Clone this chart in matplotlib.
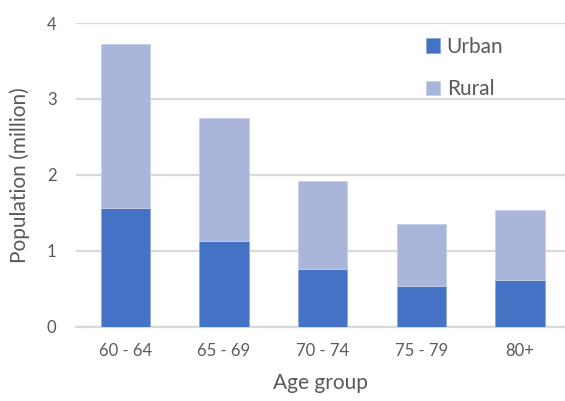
import matplotlib
matplotlib.use("Agg")
import matplotlib.pyplot as plt
import numpy as np

age_groups = ["60 - 64", "65 - 69", "70 - 74", "75 - 79", "80+"]
urban = [1.57, 1.13, 0.76, 0.54, 0.61]
rural = [2.16, 1.62, 1.16, 0.81, 0.93]

plt.rcParams["font.family"] = ["Lato", "DejaVu Sans"]
text_color = "#595959"
grid_color = "#d9d9d9"

fig = plt.figure(figsize=(5.65, 4.01), dpi=100)
ax = fig.add_axes([0.1345, 0.185, 0.866, 0.7576])

x = np.arange(len(age_groups))
ax.bar(x, urban, width=0.5, color="#4472C4", edgecolor="#8fa5d8", linewidth=0.6,
       label="Urban", zorder=3)
ax.bar(x, rural, width=0.5, bottom=urban, color="#A9B5D9", edgecolor="#c7d0ea",
       linewidth=0.6, label="Rural", zorder=3)

ax.set_ylim(0, 4)
ax.set_xlim(-0.5, 4.46)
ax.set_yticks([0, 1, 2, 3, 4])
ax.set_xticks(x)
ax.set_xticklabels(age_groups)
ax.yaxis.grid(True, color=grid_color, linewidth=1.6, zorder=0)
for side in ["top", "right", "left"]:
    ax.spines[side].set_visible(False)
ax.spines["bottom"].set_color(grid_color)
ax.spines["bottom"].set_linewidth(1.6)
ax.tick_params(axis="both", length=0, labelsize=12, colors=text_color)
ax.tick_params(axis="x", pad=12)
ax.tick_params(axis="y", pad=14)

ax.set_xlabel("Age group", fontsize=15, color=text_color, labelpad=10)
ax.set_ylabel("Population (million)", fontsize=15, color=text_color, labelpad=12)

leg = ax.legend(loc="upper left", bbox_to_anchor=(0.716, 0.955), frameon=False,
                fontsize=15, handlelength=0.68, handleheight=0.68,
                handletextpad=0.3, labelspacing=1.08, borderpad=0,
                borderaxespad=0)
for t in leg.get_texts():
    t.set_color(text_color)

fig.savefig("out.png", dpi=100)
